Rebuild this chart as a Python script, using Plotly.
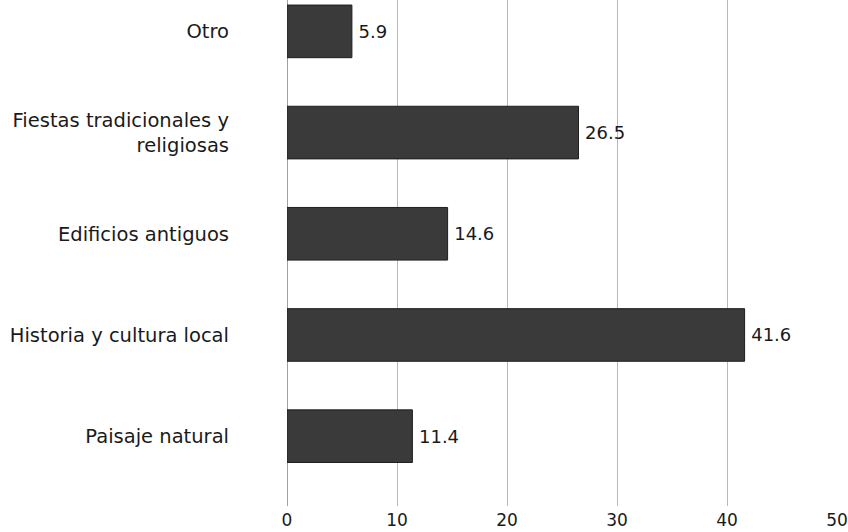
import plotly.graph_objects as go

categories = ["Paisaje natural", "Historia y cultura local", "Edificios antiguos",
              "Fiestas tradicionales y<br>religiosas", "Otro"]
values = [11.4, 41.6, 14.6, 26.5, 5.9]
value_labels = ["\u200911.4", "\u200941.6", "\u200914.6", "\u200926.5", "\u20095.9"]
x_ticks = [0, 10, 20, 30, 40, 50]

FONT = "DejaVu Sans"

fig = go.Figure(go.Bar(
    x=values, y=categories, orientation="h",
    text=value_labels, textposition="outside", cliponaxis=False,
    textfont=dict(family=FONT, size=18, color="#1a1a1a"),
    marker=dict(color="#3a3a3a", line=dict(color="#1e1e1e", width=1)),
    width=0.52,
))

fig.update_layout(
    width=848, height=532,
    margin=dict(l=287, r=11, t=0, b=26),
    paper_bgcolor="white", plot_bgcolor="white",
    font=dict(family=FONT, size=17, color="#1a1a1a"),
    showlegend=False,
)
fig.update_xaxes(
    range=[0, 50], tickvals=x_ticks, ticktext=[str(v) for v in x_ticks],
    showgrid=True, gridcolor="#b8b8b8", gridwidth=1,
    zeroline=True, zerolinecolor="#a0a0a0", zerolinewidth=1,
    showline=False, ticks="", ticklabelstandoff=2,
    tickfont=dict(family=FONT, size=17, color="#1a1a1a"),
)
fig.update_yaxes(
    type="category", categoryorder="array", categoryarray=categories,
    range=[-0.69, 4.31], showgrid=False, zeroline=False, showline=False,
    ticks="", ticklabelstandoff=57, tickfont=dict(family=FONT, size=19.5, color="#1a1a1a"),
)

fig.write_html("out.html", config={"displayModeBar": False},
               post_script="document.body.style.margin='0';document.body.style.overflow='hidden';")
